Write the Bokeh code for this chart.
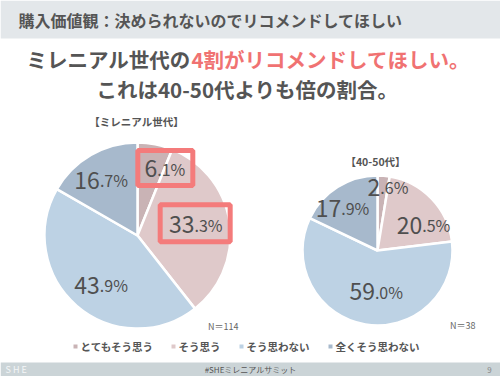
import math
from bokeh.plotting import figure
from bokeh.models import Range1d, ColumnDataSource
from bokeh.embed import file_html
from bokeh.resources import INLINE
from bokeh.core.properties import value

# ---------------- data ----------------
categories = ["とてもそう思う", "そう思う", "そう思わない", "全くそう思わない"]
millennial_pct = [6.1, 33.3, 43.9, 16.7]
age4050_pct = [2.6, 20.5, 59.0, 17.9]
millennial_n = 114
age4050_n = 38
header_text = "購入価値観：決められないのでリコメンドしてほしい"
title_line1_a = "ミレニアル世代の"
title_line1_b = "4割がリコメンドしてほしい。"
title_line2 = "これは40-50代よりも倍の割合。"
group_labels = ["【ミレニアル世代】", "【40-50代】"]
footer_tag = "#SHEミレニアルサミット"
page_no = "9"

# ---------------- style ----------------
W, H = 500, 376
slice_colors = ["#c9b3b5", "#dfc9ca", "#bdd2e4", "#a7b9cc"]
text_gray = "#555555"
accent = "#f07272"
box_red = "#f47b7b"
JP = value("Noto Sans CJK JP")


def Y(y):
    return H - y


p = figure(width=W, height=H, x_range=Range1d(0, W), y_range=Range1d(0, H),
           output_backend="svg", toolbar_location=None,
           x_axis_type=None, y_axis_type=None, min_border=0,
           outline_line_color=None, background_fill_color="white",
           border_fill_color="white")

# header band
p.quad(left=0, right=W, bottom=Y(38), top=Y(0), color="#e3e7ea", line_color=None)
p.text(x=[18], y=[Y(19)], text=[header_text], text_font=JP, text_font_size="16px",
       text_font_style="bold", text_color=text_gray, text_baseline="middle", text_align="left")

# title
p.text(x=[190], y=[Y(58)], text=[title_line1_a], text_font=JP, text_font_size="20.5px",
       text_font_style="bold", text_color=text_gray, text_baseline="middle", text_align="right")
p.text(x=[191], y=[Y(58)], text=[title_line1_b], text_font=JP, text_font_size="20.5px",
       text_font_style="bold", text_color=accent, text_baseline="middle", text_align="left")
p.text(x=[247], y=[Y(88)], text=[title_line2], text_font=JP, text_font_size="20.5px",
       text_font_style="bold", text_color=text_gray, text_baseline="middle", text_align="center")

# footer band
p.quad(left=0, right=W, bottom=0, top=Y(362), color="#cbd4d7", line_color=None)
p.text(x=[5], y=[Y(369)], text=["S H E"], text_font=JP, text_font_size="9px",
       text_color="#f4f6f7", text_baseline="middle", text_align="left")
p.text(x=[250], y=[Y(369)], text=[footer_tag], text_font=JP, text_font_size="8px",
       text_color=text_gray, text_baseline="middle", text_align="center")
p.text(x=[489], y=[Y(369)], text=[page_no], text_font=JP, text_font_size="8px",
       text_color="#888888", text_baseline="middle", text_align="center")


def draw_pie(cx, cy, r, pcts, nudges_deg, rfracs, big_fs, small_fs):
    total = float(sum(pcts))
    starts, ends, mids = [], [], []
    cum = 0.0
    for v in pcts:
        a0 = math.pi / 2 - 2 * math.pi * cum / total
        cum += v
        a1 = math.pi / 2 - 2 * math.pi * cum / total
        starts.append(a0)
        ends.append(a1)
        mids.append((a0 + a1) / 2)
    src = ColumnDataSource(dict(start=starts, end=ends, color=slice_colors,
                                cat=categories, pct=pcts))
    p.wedge(x=cx, y=Y(cy), radius=r, start_angle="start", end_angle="end",
            direction="clock", fill_color="color", line_color="white",
            line_width=2.5, source=src)
    centers = []
    for v, m, nd, rf in zip(pcts, mids, nudges_deg, rfracs):
        a = m - math.radians(nd)
        lx = cx + rf * r * math.cos(a)
        ly = Y(cy) + rf * r * math.sin(a)
        s = f"{v:.1f}"
        ip, dp = s.split(".")
        big = ip
        small = "." + dp + "%"
        wb = len(big) * 0.56 * big_fs
        ws = (0.27 + 0.56 + 0.86) * small_fs
        ax = lx - (wb + ws) / 2 + wb
        by = ly + 0.02 * big_fs
        p.text(x=[ax], y=[by], text=[big], text_font=JP, text_font_size=f"{big_fs}px",
               text_color="#4f4f4f", text_align="right", text_baseline="alphabetic")
        p.text(x=[ax], y=[by], text=[small], text_font=JP, text_font_size=f"{small_fs}px",
               text_color="#4f4f4f", text_align="left", text_baseline="alphabetic")
        centers.append((lx, ly))
    return centers


left_c = draw_pie(137, 235, 93, millennial_pct,
                  [11, -2, -4.4, -4], [0.77, 0.63, 0.67, 0.71], 23, 16)
right_c = draw_pie(377, 250, 75, age4050_pct,
                   [4.3, 15, -6.7, -8.4], [0.85, 0.69, 0.56, 0.73], 23, 16)

# highlight boxes around the millennial "agree" labels
p.rect(x=[left_c[0][0] + 1, left_c[1][0]], y=[left_c[0][1] + 1, left_c[1][1] + 2],
       width=[55, 70], height=[35, 37], fill_color=None, line_color=box_red, line_width=5)

# group labels
p.text(x=[136, 375], y=[Y(121), Y(161)], text=group_labels, text_font=JP,
       text_font_size="10.5px", text_font_style="bold", text_color=text_gray,
       text_align="center", text_baseline="middle")

# N labels
p.text(x=[238, 475], y=[Y(326), Y(325)], text=[f"N＝{millennial_n}", f"N＝{age4050_n}"],
       text_font=JP, text_font_size="9px", text_color="#666666",
       text_align="right", text_baseline="middle")

# legend
leg_x = [75, 173, 241, 330]
p.rect(x=leg_x, y=[Y(346)] * 4, width=4, height=4, fill_color=slice_colors, line_color=None)
p.text(x=[x + 5 for x in leg_x], y=[Y(346)] * 4, text=categories, text_font=JP,
       text_font_size="10.5px", text_font_style="bold", text_color=text_gray,
       text_align="left", text_baseline="middle")

open("out.html", "w").write(file_html(p, INLINE))
